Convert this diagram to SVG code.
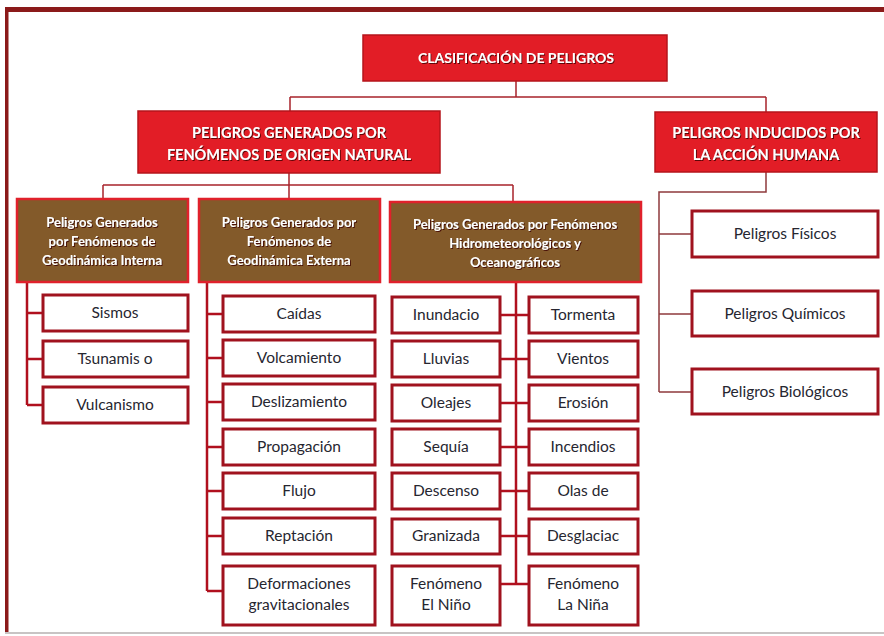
<svg xmlns="http://www.w3.org/2000/svg" width="884" height="636" viewBox="0 0 884 636">
<defs>
<filter id="sh" x="-10%" y="-20%" width="120%" height="140%">
<feDropShadow dx="1" dy="1" stdDeviation="0.6" flood-color="#3a0000" flood-opacity="0.8"/>
</filter>
<style>
.hdr{fill:#E21D26;stroke:#B5141B;stroke-width:1.5}
.brn{fill:#835A2A;stroke:#E0212B;stroke-width:2.5}
.box{fill:#FFFFFF;stroke:#A0121E;stroke-width:3}
.ht{font-family:Lato,"Open Sans",sans-serif;font-weight:bold;fill:#FFFFFF;text-anchor:middle}
.bt{font-family:Lato,"Open Sans",sans-serif;font-weight:bold;font-size:13px;fill:#FFFFFF;text-anchor:middle}
.ct{font-family:Lato,"Open Sans",sans-serif;font-size:15.5px;fill:#262630;text-anchor:middle}
.c1{fill:none;stroke:#A8232B;stroke-width:1.5}
.c2{fill:none;stroke:#B0101E;stroke-width:2.5}
.c3{fill:none;stroke:#8E3A3C;stroke-width:1.5}
</style>
</defs>
<rect x="0" y="0" width="884" height="636" fill="#FFFFFF"/>
<g id="frame">
<rect x="7" y="7" width="877" height="5" fill="#8B1A1A"/>
<rect x="5" y="7" width="3.5" height="627" fill="#8B1A1A"/>
<rect x="5" y="632" width="879" height="2" fill="#C8C4C4"/>
</g>
<g id="connectors">
<path class="c1" d="M516 81 V97 M290 97 H766 M290 97 V111 M766 97 V112"/>
<path class="c1" d="M289 173 V185 M103 185 H513 M103 185 V199 M289 185 V199 M513 185 V202"/>
<path class="c2" d="M27 282 V405 M27 313 H43 M27 359 H43 M27 405 H43"/>
<path class="c2" d="M207 282 V591 M207 314 H223 M207 358 H223 M207 402 H223 M207 447 H223 M207 491 H223 M207 536 H223 M207 591 H223"/>
<path class="c2" d="M516 282 V584 M500 315 H529 M500 359 H529 M500 403 H529 M500 447 H529 M500 491 H529 M500 536 H529 M500 584 H529"/>
<path class="c3" d="M766 172 V192 H659 V392 M659 234 H692 M659 314 H692 M659 392 H692"/>
</g>
<g id="n-clasificacion">
<rect class="hdr" x="363" y="35" width="304" height="46"/>
<text class="ht" x="516" y="63" font-size="14" filter="url(#sh)">CLASIFICACIÓN DE PELIGROS</text>
</g>
<g id="n-natural">
<rect class="hdr" x="138" y="111" width="302" height="62"/>
<text class="ht" x="289" y="138" font-size="14.5" filter="url(#sh)">PELIGROS GENERADOS POR</text>
<text class="ht" x="289" y="160" font-size="14.5" filter="url(#sh)">FENÓMENOS DE ORIGEN NATURAL</text>
</g>
<g id="n-humana">
<rect class="hdr" x="655" y="112" width="222" height="60"/>
<text class="ht" x="766" y="138" font-size="14.5" filter="url(#sh)">PELIGROS INDUCIDOS POR</text>
<text class="ht" x="766" y="160" font-size="14.5" filter="url(#sh)">LA ACCIÓN HUMANA</text>
</g>
<g id="n-interna">
<rect class="brn" x="17" y="199" width="171" height="83"/>
<text class="bt" x="102" y="227" filter="url(#sh)">Peligros Generados</text>
<text class="bt" x="102" y="246" filter="url(#sh)">por Fenómenos de</text>
<text class="bt" x="102" y="265" filter="url(#sh)">Geodinámica Interna</text>
</g>
<g id="n-externa">
<rect class="brn" x="199" y="199" width="181" height="83"/>
<text class="bt" x="289" y="227" filter="url(#sh)">Peligros Generados por</text>
<text class="bt" x="289" y="246" filter="url(#sh)">Fenómenos de</text>
<text class="bt" x="289" y="265" filter="url(#sh)">Geodinámica Externa</text>
</g>
<g id="n-hidro">
<rect class="brn" x="390" y="202" width="251" height="80"/>
<text class="bt" x="515" y="229" filter="url(#sh)">Peligros Generados por Fenómenos</text>
<text class="bt" x="515" y="248" filter="url(#sh)">Hidrometeorológicos y</text>
<text class="bt" x="515" y="267" filter="url(#sh)">Oceanográficos</text>
</g>
<g id="n-sismos"><rect class="box" x="43" y="295" width="145" height="36"/><text class="ct" x="115" y="318">Sismos</text></g>
<g id="n-tsunamis"><rect class="box" x="43" y="341" width="145" height="36"/><text class="ct" x="115" y="364">Tsunamis o</text></g>
<g id="n-vulcanismo"><rect class="box" x="43" y="387" width="145" height="36"/><text class="ct" x="115" y="410">Vulcanismo</text></g>
<g id="n-caidas"><rect class="box" x="223" y="296" width="152" height="36"/><text class="ct" x="299" y="319">Caídas</text></g>
<g id="n-volcamiento"><rect class="box" x="223" y="340" width="152" height="36"/><text class="ct" x="299" y="363">Volcamiento</text></g>
<g id="n-deslizamiento"><rect class="box" x="223" y="384" width="152" height="36"/><text class="ct" x="299" y="407">Deslizamiento</text></g>
<g id="n-propagacion"><rect class="box" x="223" y="429" width="152" height="36"/><text class="ct" x="299" y="452">Propagación</text></g>
<g id="n-flujo"><rect class="box" x="223" y="473" width="152" height="36"/><text class="ct" x="299" y="496">Flujo</text></g>
<g id="n-reptacion"><rect class="box" x="223" y="518" width="152" height="36"/><text class="ct" x="299" y="541">Reptación</text></g>
<g id="n-deformaciones"><rect class="box" x="223" y="566" width="152" height="59"/><text class="ct" x="299" y="589">Deformaciones</text><text class="ct" x="299" y="610">gravitacionales</text></g>
<g id="n-inundacio"><rect class="box" x="392" y="297" width="108" height="36"/><text class="ct" x="446" y="320">Inundacio</text></g>
<g id="n-lluvias"><rect class="box" x="392" y="341" width="108" height="36"/><text class="ct" x="446" y="364">Lluvias</text></g>
<g id="n-oleajes"><rect class="box" x="392" y="385" width="108" height="36"/><text class="ct" x="446" y="408">Oleajes</text></g>
<g id="n-sequia"><rect class="box" x="392" y="429" width="108" height="36"/><text class="ct" x="446" y="452">Sequía</text></g>
<g id="n-descenso"><rect class="box" x="392" y="473" width="108" height="36"/><text class="ct" x="446" y="496">Descenso</text></g>
<g id="n-granizada"><rect class="box" x="392" y="519" width="108" height="35"/><text class="ct" x="446" y="541">Granizada</text></g>
<g id="n-nino"><rect class="box" x="392" y="566" width="108" height="59"/><text class="ct" x="446" y="589">Fenómeno</text><text class="ct" x="446" y="610">El Niño</text></g>
<g id="n-tormenta"><rect class="box" x="529" y="297" width="109" height="36"/><text class="ct" x="583" y="320">Tormenta</text></g>
<g id="n-vientos"><rect class="box" x="529" y="341" width="109" height="36"/><text class="ct" x="583" y="364">Vientos</text></g>
<g id="n-erosion"><rect class="box" x="529" y="385" width="109" height="36"/><text class="ct" x="583" y="408">Erosión</text></g>
<g id="n-incendios"><rect class="box" x="529" y="429" width="109" height="36"/><text class="ct" x="583" y="452">Incendios</text></g>
<g id="n-olas"><rect class="box" x="529" y="473" width="109" height="36"/><text class="ct" x="583" y="496">Olas de</text></g>
<g id="n-desglaciac"><rect class="box" x="529" y="519" width="109" height="35"/><text class="ct" x="583" y="541">Desglaciac</text></g>
<g id="n-nina"><rect class="box" x="529" y="566" width="109" height="59"/><text class="ct" x="583" y="589">Fenómeno</text><text class="ct" x="583" y="610">La Niña</text></g>
<g id="n-fisicos"><rect class="box" x="692" y="211" width="186" height="46"/><text class="ct" x="785" y="239">Peligros Físicos</text></g>
<g id="n-quimicos"><rect class="box" x="692" y="291" width="186" height="45"/><text class="ct" x="785" y="319">Peligros Químicos</text></g>
<g id="n-biologicos"><rect class="box" x="692" y="369" width="186" height="45"/><text class="ct" x="785" y="397">Peligros Biológicos</text></g>
</svg>
